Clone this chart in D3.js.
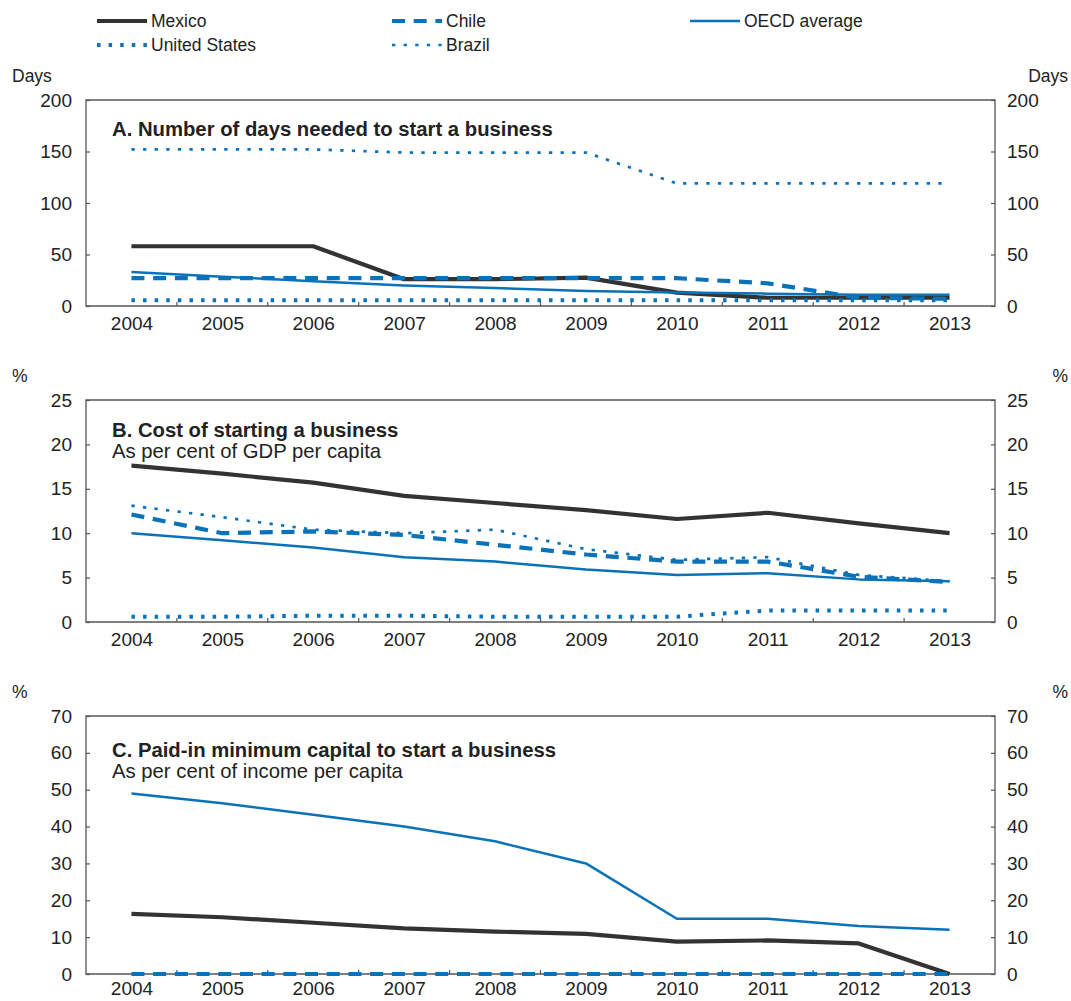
<!DOCTYPE html>
<html>
<head>
<meta charset="utf-8">
<script src="https://cdn.jsdelivr.net/npm/d3@7"></script>
<style>
  html, body { margin: 0; padding: 0; background: #fff; }
  svg { display: block; font-family: "Liberation Sans", Arial, Helvetica, sans-serif; }
</style>
</head>
<body>
<svg id="chart" width="1071" height="1001"></svg>
<script>
// Years on the horizontal axis
const years = [2004, 2005, 2006, 2007, 2008, 2009, 2010, 2011, 2012, 2013];

// A. Number of days needed to start a business
const daysMexico = [58, 58, 58, 26, 26, 27.5, 13, 8, 8, 8];
const daysChile  = [27, 27, 27, 27, 27, 27, 27, 22, 8, 7];
const daysUS     = [5.5, 5.5, 5.5, 5.5, 5.5, 5.5, 5.5, 5.5, 5.5, 5.5];
const daysBrazil = [152, 152, 152, 149, 149, 149, 119, 119, 119, 119];
const daysOECD   = [33, 28.5, 24, 20, 17.5, 14.5, 13, 12, 11, 11];
const daysTicks  = [0, 50, 100, 150, 200];

// B. Cost of starting a business, % of GDP per capita
const costMexico = [17.6, 16.7, 15.7, 14.2, 13.4, 12.6, 11.6, 12.3, 11.1, 10.0];
const costChile  = [12.1, 10.0, 10.2, 9.8, 8.7, 7.6, 6.8, 6.8, 5.1, 4.5];
const costUS     = [0.6, 0.6, 0.7, 0.7, 0.6, 0.6, 0.6, 1.3, 1.3, 1.3];
const costBrazil = [13.1, 11.8, 10.4, 10.0, 10.4, 8.2, 7.0, 7.3, 5.3, 4.6];
const costOECD   = [10.0, 9.2, 8.4, 7.3, 6.8, 5.9, 5.3, 5.5, 4.8, 4.6];
const costTicks  = [0, 5, 10, 15, 20, 25];

// C. Paid-in minimum capital, % of income per capita (no series for US and Brazil)
const capMexico = [16.3, 15.4, 13.9, 12.4, 11.5, 10.9, 8.8, 9.1, 8.3, 0];
const capChile  = [0, 0, 0, 0, 0, 0, 0, 0, 0, 0];
const capUS     = [null, null, null, null, null, null, null, null, null, null];
const capBrazil = [null, null, null, null, null, null, null, null, null, null];
const capOECD   = [49, 46.3, 43.2, 40, 36, 30, 15, 15, 13, 12];
const capTicks  = [0, 10, 20, 30, 40, 50, 60, 70];

const seriesNames = ["Mexico", "United States", "Chile", "Brazil", "OECD average"];

const BLUE = "#0a72b8";
const DARK = "#333333";
const TEXT = "#222222";
const AXIS = "#555555";

const styles = {
  "Mexico":        { color: DARK, width: 4.2, dash: null },
  "Chile":         { color: BLUE, width: 4.2, dash: "13,8.7" },
  "United States": { color: BLUE, width: 4,   dash: "3.5,8.1" },
  "Brazil":        { color: BLUE, width: 2.7, dash: "3.3,8.3" },
  "OECD average":  { color: BLUE, width: 2.5, dash: null }
};

const panels = [
  { unit: "Days", ticks: daysTicks, domain: [0, 200], top: 100, bottom: 306,
    title: "A. Number of days needed to start a business", subtitle: null,
    titleY: 136, unitY: 82, yearPad: 11,
    data: { "Mexico": daysMexico, "Chile": daysChile, "United States": daysUS, "Brazil": daysBrazil, "OECD average": daysOECD } },
  { unit: "%", ticks: costTicks, domain: [0, 25], top: 400, bottom: 622,
    title: "B. Cost of starting a business", subtitle: "As per cent of GDP per capita",
    titleY: 437, unitY: 382, yearPad: 11,
    data: { "Mexico": costMexico, "Chile": costChile, "United States": costUS, "Brazil": costBrazil, "OECD average": costOECD } },
  { unit: "%", ticks: capTicks, domain: [0, 70], top: 716, bottom: 974,
    title: "C. Paid-in minimum capital to start a business", subtitle: "As per cent of income per capita",
    titleY: 757, unitY: 698, yearPad: 8,
    data: { "Mexico": capMexico, "Chile": capChile, "United States": capUS, "Brazil": capBrazil, "OECD average": capOECD } }
];

const svg = d3.select("#chart");
const left = 86, right = 995;

const x = d3.scalePoint().domain(years).range([left, right]).padding(0.5);
const step = x.step();

// Drawing order: lower layers first
const drawOrder = ["Mexico", "OECD average", "Brazil", "United States", "Chile"];

panels.forEach(p => {
  const g = svg.append("g");
  const y = d3.scaleLinear().domain(p.domain).range([p.bottom, p.top]);

  // Left and right axes with inward ticks
  const leftAxis = g.append("g").attr("transform", `translate(${left},0)`)
    .call(d3.axisLeft(y).tickValues(p.ticks).tickSize(-4).tickPadding(14).tickFormat(d3.format("d")));
  const rightAxis = g.append("g").attr("transform", `translate(${right},0)`)
    .call(d3.axisRight(y).tickValues(p.ticks).tickSize(-4).tickPadding(12).tickFormat(d3.format("d")));
  [leftAxis, rightAxis].forEach(a => {
    a.select(".domain").remove();
    a.selectAll(".tick line").attr("stroke", AXIS).attr("stroke-width", 1.2);
    a.selectAll(".tick text").attr("fill", TEXT).attr("font-size", 19).attr("font-family", null);
  });

  // Bottom axis: year labels centred, ticks at the boundaries between years
  const bottomAxis = g.append("g").attr("transform", `translate(0,${p.bottom})`)
    .call(d3.axisBottom(x).tickSize(0).tickPadding(p.yearPad));
  bottomAxis.select(".domain").remove();
  bottomAxis.selectAll(".tick text").attr("fill", TEXT).attr("font-size", 19).attr("font-family", null);
  g.append("g").selectAll("line")
    .data(years.slice(1))
    .join("line")
    .attr("x1", d => x(d) - step / 2).attr("x2", d => x(d) - step / 2)
    .attr("y1", p.bottom).attr("y2", p.bottom - 4)
    .attr("stroke", AXIS).attr("stroke-width", 1.2);

  // Frame
  g.append("path")
    .attr("d", `M${left},${p.bottom}V${p.top}H${right}V${p.bottom}Z`)
    .attr("fill", "none").attr("stroke", AXIS).attr("stroke-width", 1.3);

  // Unit labels
  g.append("text").attr("x", 12).attr("y", p.unitY).attr("font-size", 17.5).attr("fill", TEXT).text(p.unit);
  g.append("text").attr("x", 1068).attr("y", p.unitY).attr("text-anchor", "end").attr("font-size", 17.5).attr("fill", TEXT).text(p.unit);

  // Titles
  g.append("text").attr("x", 112).attr("y", p.titleY).attr("font-size", 20.3).attr("font-weight", "bold")
    .attr("fill", TEXT).text(p.title);
  if (p.subtitle) {
    g.append("text").attr("x", 112).attr("y", p.titleY + 21).attr("font-size", 20.3)
      .attr("fill", TEXT).text(p.subtitle);
  }

  // Lines
  const line = d3.line().defined(d => d != null).x((d, i) => x(years[i])).y(d => y(d));
  drawOrder.forEach(name => {
    const s = styles[name];
    g.append("path")
      .datum(p.data[name])
      .attr("d", line)
      .attr("fill", "none")
      .attr("stroke", s.color)
      .attr("stroke-width", s.width)
      .attr("stroke-dasharray", s.dash)
      .attr("stroke-linejoin", "round");
  });
});

// Legend
const legendPos = {
  "Mexico":        { x: 97,  y: 21 },
  "United States": { x: 97,  y: 45 },
  "Chile":         { x: 392, y: 21 },
  "Brazil":        { x: 392, y: 45 },
  "OECD average":  { x: 690, y: 21 }
};
const legend = svg.append("g");
seriesNames.forEach(name => {
  const s = styles[name];
  const pos = legendPos[name];
  legend.append("line")
    .attr("x1", pos.x).attr("x2", pos.x + 50)
    .attr("y1", pos.y).attr("y2", pos.y)
    .attr("stroke", s.color).attr("stroke-width", s.width)
    .attr("stroke-dasharray", s.dash);
  legend.append("text")
    .attr("x", pos.x + 54).attr("y", pos.y + 6)
    .attr("font-size", 17.5).attr("fill", TEXT).text(name);
});
</script>
</body>
</html>
